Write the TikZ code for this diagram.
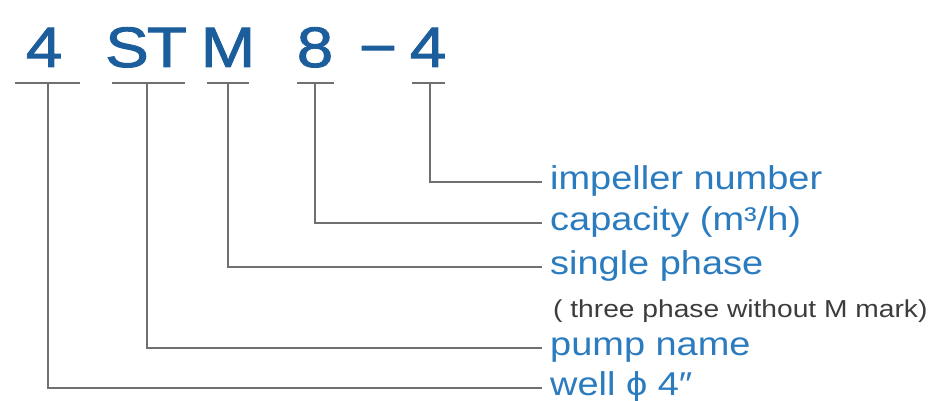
\documentclass[tikz,border=0pt]{standalone}
\usepackage{fontspec}
\setmainfont[FakeStretch=1.15]{Liberation Sans}
\newfontfamily\codefont[FakeStretch=1.15, FakeBold=1.6]{Liberation Sans}
\definecolor{codeblue}{HTML}{1B5E9B}
\definecolor{labelblue}{HTML}{2B7BBF}
\definecolor{linegray}{HTML}{707070}
\definecolor{notegray}{HTML}{3C3C3C}
\tikzset{
  codechar/.style={anchor=base, inner sep=0pt, text=codeblue, font=\codefont\fontsize{57}{57}\selectfont},
  label/.style={anchor=west, inner sep=0pt, text height=22pt, text depth=8pt, text=labelblue, font=\fontsize{33}{33}\selectfont},
  note/.style={anchor=base west, inner sep=0pt, text=notegray, font=\fontsize{24.5}{24.5}\selectfont},
  leader/.style={draw=linegray, line width=2.2pt}
}
\begin{document}
\begin{tikzpicture}[x=1pt, y=-1pt]
  \useasboundingbox (0,0) rectangle (936,401);
  % code
  \node[codechar] (four)  at (44,67)  {4};
  \node[codechar] (s)     at (127,67) {S};
  \node[codechar] (t)     at (167,67) {T};
  \node[codechar] (m)     at (228,67) {M};
  \node[codechar] (eight) at (315,67) {8};
  \node[codechar] (dash)  at (378,67) {−};
  \node[codechar] (imp)   at (428,67) {4};
  % underlines
  \coordinate (u1) at (48,83);
  \coordinate (u2) at (147,83);
  \coordinate (u3) at (228,83);
  \coordinate (u4) at (315,83);
  \coordinate (u5) at (430,83);
  \draw[leader] (15,83) -- (80,83);
  \draw[leader] (112,83) -- (185,83);
  \draw[leader] (207,83) -- (249,83);
  \draw[leader] (297,83) -- (334,83);
  \draw[leader] (412,83) -- (445,83);
  % labels
  \node[label] (impeller) at (550,182) {impeller number};
  \node[label] (capacity) at (550,223) {capacity (m³/h)};
  \node[label] (phase)    at (550,267) {single phase};
  \node[note]  (nomark)   at (553,317) {( three phase without M mark)};
  \node[label] (pump)     at (550,348) {pump name};
  \node[label] (well)     at (550,388) {well ϕ 4″};
  % leaders
  \draw[leader] (u5) |- ([xshift=-8pt]impeller.west);
  \draw[leader] (u4) |- ([xshift=-8pt]capacity.west);
  \draw[leader] (u3) |- ([xshift=-8pt]phase.west);
  \draw[leader] (u2) |- ([xshift=-8pt]pump.west);
  \draw[leader] (u1) |- ([xshift=-8pt]well.west);
\end{tikzpicture}
\end{document}
